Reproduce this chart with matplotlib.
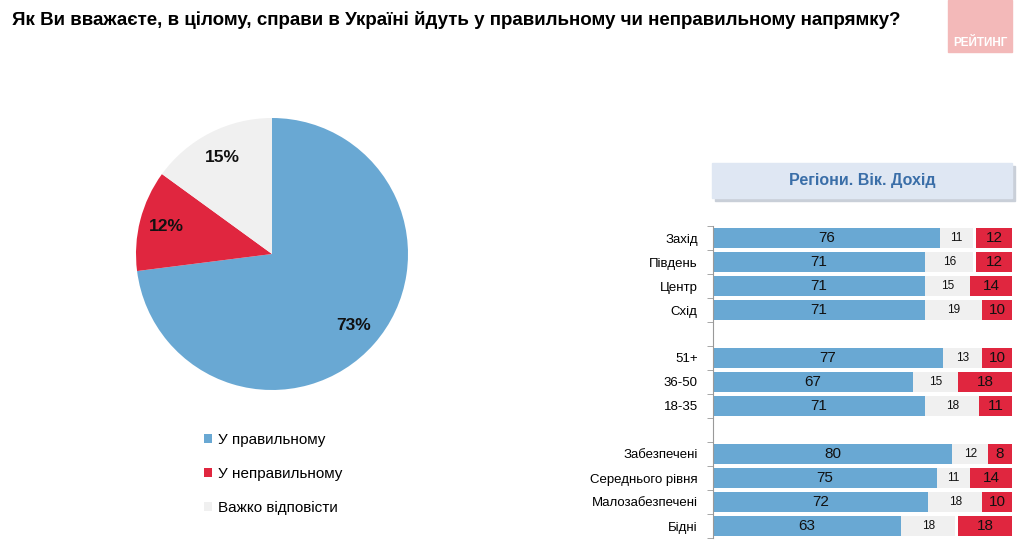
import matplotlib.pyplot as plt
from matplotlib.patches import Rectangle

plt.rcParams['font.family'] = ['Liberation Sans', 'DejaVu Sans']

W, H = 1024, 550

# pie data
pie_labels = ["У правильному", "У неправильному", "Важко відповісти"]
pie_values = [73, 12, 15]

# bar data (None = empty slot between groups)
categories = ["Захід", "Південь", "Центр", "Схід", None,
              "51+", "36-50", "18-35", None,
              "Забезпечені", "Середнього рівня", "Малозабезпечені", "Бідні"]
right_vals = [76, 71, 71, 71, None, 77, 67, 71, None, 80, 75, 72, 63]
hard_vals = [11, 16, 15, 19, None, 13, 15, 18, None, 12, 11, 18, 18]
wrong_vals = [12, 12, 14, 10, None, 10, 18, 11, None, 8, 14, 10, 18]

BLUE = "#69a8d3"
RED = "#e0263f"
GRAY = "#f0f0f0"
colors = [BLUE, RED, GRAY]


def px_axes(fig, x0, y0, x1, y1):
    # pixel box (top-left origin) -> figure axes
    return fig.add_axes([x0 / W, 1 - y1 / H, (x1 - x0) / W, (y1 - y0) / H])


fig = plt.figure(figsize=(W / 100, H / 100), dpi=100)

fig.text(12 / W, 1 - 20 / H,
         "Як Ви вважаєте, в цілому, справи в Україні йдуть у правильному чи неправильному напрямку?",
         fontsize=13.5, fontweight="bold", va="center", ha="left")

# logo
fig.patches.append(Rectangle((948 / W, 1 - 52 / H), 64 / W, 52 / H,
                             transform=fig.transFigure, color="#f3b9b9", zorder=0))
fig.text(980 / W, 1 - 43 / H, "РЕЙТИНГ", color="white", fontsize=8.5,
         fontweight="bold", ha="center", va="center")

# pie
ax_pie = px_axes(fig, 136, 118, 408, 390)
wedges, texts, autotexts = ax_pie.pie(
    pie_values, colors=colors, startangle=90, counterclock=False,
    autopct=lambda p: f"{round(p)}%", pctdistance=0.8,
    textprops=dict(fontsize=12.5, fontweight="bold", color="#111111"))
ax_pie.set_xlim(-1, 1)
ax_pie.set_ylim(-1, 1)
ax_pie.set_aspect("equal")

fig.legend(wedges, pie_labels, loc="upper left",
           bbox_to_anchor=(190 / W, 1 - 419 / H), frameon=False,
           fontsize=11, handlelength=0.55, handleheight=0.55,
           handletextpad=0.35, labelspacing=1.32)

# header box
fig.patches.append(Rectangle((715 / W, 1 - 201 / H), 300 / W, 35 / H,
                             transform=fig.transFigure, color="#c9cfd8", zorder=0))
fig.patches.append(Rectangle((712 / W, 1 - 198 / H), 300 / W, 35 / H,
                             transform=fig.transFigure, color="#dfe7f3", zorder=1))
fig.text(862 / W, 1 - 181 / H, "Регіони. Вік. Дохід", color="#3a6ea8",
         fontsize=11.5, fontweight="bold", ha="center", va="center")

# stacked bars
ax = px_axes(fig, 713, 226, 1012, 538)
ys = [i for i, c in enumerate(categories) if c is not None]
r = [right_vals[i] for i in ys]
h = [hard_vals[i] for i in ys]
w = [wrong_vals[i] for i in ys]
left_w = [100 - v for v in w]
ax.barh(ys, r, height=0.8, color=BLUE)
ax.barh(ys, h, left=r, height=0.8, color=GRAY)
ax.barh(ys, w, left=left_w, height=0.8, color=RED)
for y, a, b, c, lw in zip(ys, r, h, w, left_w):
    ax.text(a / 2, y, str(a), ha="center", va="center", fontsize=11, color="#111111")
    ax.text(a + b / 2, y, str(b), ha="center", va="center", fontsize=8.5, color="#111111")
    ax.text(lw + c / 2, y, str(c), ha="center", va="center", fontsize=11, color="#111111")

ax.set_xlim(0, 100)
ax.set_ylim(12.5, -0.5)
ax.set_xticks([])
ax.set_yticks(ys)
ax.set_yticklabels([categories[i] for i in ys], fontsize=9.5)
ax.tick_params(axis="y", length=0, pad=11)
bounds = sorted(set([y - 0.5 for y in ys] + [y + 0.5 for y in ys]))
ax.set_yticks(bounds, minor=True)
ax.tick_params(axis="y", which="minor", length=4, color="#999999", direction="out")
for s in ["top", "right", "bottom"]:
    ax.spines[s].set_visible(False)
ax.spines["left"].set_color("#999999")

fig.savefig("out.png", dpi=100)
